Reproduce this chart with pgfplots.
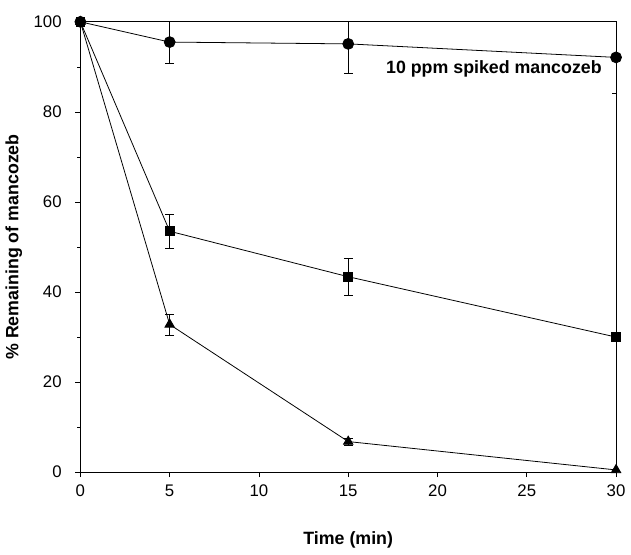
\documentclass[border=0pt]{standalone}
\usepackage{pgfplots}
\pgfplotsset{compat=1.18}
\usepackage{fontspec}
\setmainfont{Liberation Sans}
\begin{document}
\fontsize{17}{20}\selectfont
\begin{tikzpicture}
\begin{axis}[
    scale only axis,
    width=540bp, height=454bp,
    xmin=0, xmax=30, ymin=0, ymax=100,
    xtick={0,5,...,30}, ytick={0,20,...,100},
    minor y tick num=1,
    tick align=outside,
    tick pos=left,
    major tick length=5bp, minor tick length=3bp,
    tick style={black, line width=0.6pt},
    axis line style={line width=0.8pt},
    xlabel={\textbf{Time (min)}},
    ylabel={\textbf{\% Remaining of mancozeb}},
    label style={font=\fontsize{18}{21}\selectfont},
    xlabel style={yshift=-24bp},
    ylabel style={yshift=0bp},
    /pgf/number format/assume math mode=true,
    ticklabel style={font=\fontsize{17}{20}\selectfont},
    xticklabel style={yshift=-2bp},
    yticklabel style={xshift=-8bp},
    error bars/error bar style={line width=0.6pt},
    error bars/error mark options={rotate=90, mark size=4.5bp, line width=0.6pt},
]
\addplot[black, line width=0.8pt, mark=*, mark size=5.5bp, mark options={fill=black},
    error bars/.cd, y dir=both, y explicit]
    coordinates {(0,100) +- (0,0) (5,95.5) +- (0,4.8) (15,95.1) +- (0,6.5) (30,92.1) +- (0,8)};
\addplot[black, line width=0.8pt, mark=square*, mark size=4.5bp, mark options={fill=black},
    error bars/.cd, y dir=both, y explicit]
    coordinates {(0,100) +- (0,0) (5,53.5) +- (0,3.7) (15,43.4) +- (0,4.2) (30,30.0) +- (0,0)};
\addplot[black, line width=0.8pt, mark=triangle*, mark size=5.5bp, mark options={fill=black},
    error bars/.cd, y dir=both, y explicit]
    coordinates {(0,100) +- (0,0) (5,32.8) +- (0,2.3) (15,6.8) +- (0,0.8) (30,0.5) +- (0,0)};
\node[anchor=west, font=\bfseries\fontsize{18}{21}\selectfont] at (axis cs:16.8,89.5) {10 ppm spiked mancozeb};
\end{axis}
\path ([yshift=22bp]current axis.north);
\end{tikzpicture}
\end{document}
